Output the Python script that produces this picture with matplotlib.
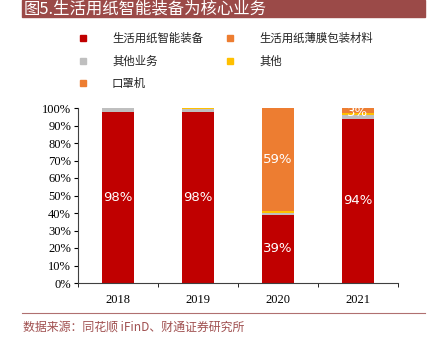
import matplotlib
matplotlib.use("Agg")
import matplotlib.pyplot as plt
from matplotlib.patches import Rectangle
import numpy as np

plt.rcParams['font.family'] = ['Noto Sans CJK SC', 'DejaVu Sans']

years = ["2018", "2019", "2020", "2021"]
smart_equip = [98, 98, 39, 94]
other_biz = [2, 1.6, 1, 2]
other = [0, 0.4, 1, 1]
film = [0, 0, 0, 3]
mask = [0, 0, 59, 0]

series_names = ["生活用纸智能装备", "生活用纸薄膜包装材料", "其他业务", "其他", "口罩机"]
colors = {"red": "#C00000", "orange": "#ED7D31", "gray": "#BFBFBF", "yellow": "#FFC000"}

title = "图5.生活用纸智能装备为核心业务"
source = "数据来源：同花顺 iFinD、财通证券研究所"

fig = plt.figure(figsize=(4.29, 3.39), dpi=100)
W, H = 429, 339

# title bar
fig.patches.append(Rectangle((22 / W, 1 - 17 / H), (425 - 22) / W, 17 / H,
                             transform=fig.transFigure, color="#9B4A48", zorder=0))
fig.text(24 / W, 1 - 9 / H, title, color="white", fontsize=11.8, va="center", ha="left")

ax = fig.add_axes([78 / W, 1 - 283 / H, (398 - 78) / W, (283 - 108) / H])
x = np.arange(len(years))
w = 0.4
bottom = np.zeros(len(years))
stack = [(smart_equip, colors["red"]), (other_biz, colors["gray"]), (other, colors["yellow"]),
         (film, colors["orange"]), (mask, colors["orange"])]
for vals, c in stack:
    ax.bar(x, vals, w, bottom=bottom, color=c, zorder=2)
    bottom += np.array(vals)

# labels
for i in range(len(years)):
    ax.text(x[i], smart_equip[i] / 2, f"{smart_equip[i]:.0f}%", color="white",
            ha="center", va="center", fontsize=9.5, family="DejaVu Sans")
ax.text(x[2], smart_equip[2] + other_biz[2] + other[2] + mask[2] / 2, f"{mask[2]:.0f}%",
        color="white", ha="center", va="center", fontsize=9.5, family="DejaVu Sans")
ax.text(x[3], 100 - film[3] / 2 - 0.8, f"{film[3]:.0f}%", color="white",
        ha="center", va="center", fontsize=9.5, family="DejaVu Sans", clip_on=True)

ax.set_xlim(-0.5, len(years) - 0.5)
ax.set_ylim(0, 100)
ax.set_yticks(np.arange(0, 101, 10))
ax.set_yticklabels([f"{v}%" for v in range(0, 101, 10)], family="Liberation Serif", fontsize=9)
ax.set_xticks(x)
ax.set_xticklabels(years, family="Liberation Serif", fontsize=9)
ax.tick_params(axis="x", length=0, pad=8)
ax.set_xticks(np.arange(-0.5, len(years)), minor=True)
ax.tick_params(axis="x", which="minor", length=3, direction="out")
ax.tick_params(axis="y", length=3, direction="out", pad=2)
for s in ["top", "right"]:
    ax.spines[s].set_visible(False)
ax.spines["left"].set_color("#404040")
ax.spines["bottom"].set_color("#404040")

# legend
leg_items = [
    (83, 38, colors["red"], series_names[0]),
    (230, 38, colors["orange"], series_names[1]),
    (83, 61, colors["gray"], series_names[2]),
    (230, 61, colors["yellow"], series_names[3]),
    (83, 83, colors["orange"], series_names[4]),
]
for px, py, c, name in leg_items:
    fig.patches.append(Rectangle(((px - 3) / W, 1 - (py + 3) / H), 6 / W, 6 / H,
                                 transform=fig.transFigure, color=c))
    fig.text((px + 29) / W, 1 - py / H, name, fontsize=8.2, va="center", ha="left", color="#222222")

# bottom line and source
fig.add_artist(plt.Line2D([22 / W, 425 / W], [1 - 313 / H, 1 - 313 / H],
                          transform=fig.transFigure, color="#B07070", lw=0.8))
fig.text(23 / W, 1 - 327 / H, source, fontsize=8.6, color="#A05050", va="center", ha="left")

fig.savefig("out.png", dpi=100)
